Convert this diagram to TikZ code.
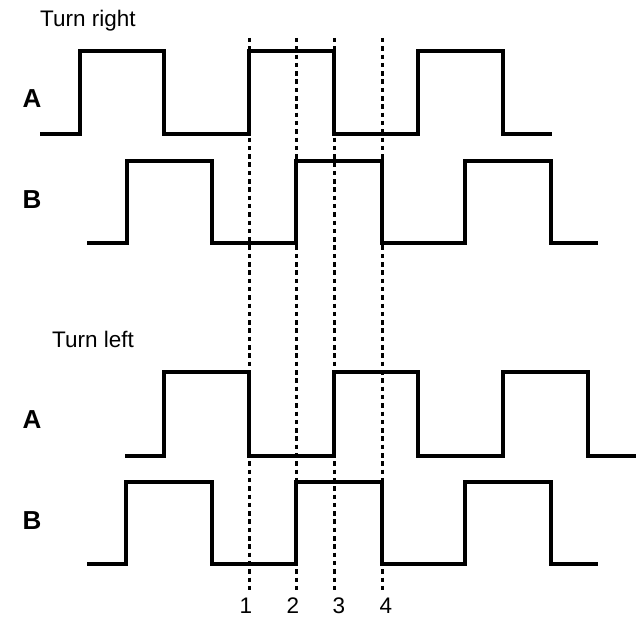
\documentclass[tikz,border=0pt]{standalone}
\usepackage{fontspec}
\setmainfont{Liberation Sans}
\begin{document}
\begin{tikzpicture}[x=1pt,y=-1pt,
  wave/.style={line width=4.2pt,line join=miter},
  guide/.style={line width=3pt,dash pattern=on 4.5pt off 3.8pt},
  title/.style={font=\fontsize{22.5}{25}\selectfont,anchor=base west,inner sep=0pt},
  sig/.style={font=\fontsize{26}{28}\selectfont\bfseries,inner sep=0pt},
  num/.style={font=\fontsize{22.5}{24}\selectfont,inner sep=0pt}]
\useasboundingbox (0,0) rectangle (642,617);
% texts
\node[title] (tr) at (40,27) {Turn right};
\node[title] (tl) at (52,348) {Turn left};
\node[sig] (a1) at (32,99) {A};
\node[sig] (b1) at (32,200) {B};
\node[sig] (a2) at (32,420) {A};
\node[sig] (b2) at (32,521) {B};
% dotted guides
\foreach \x/\n in {249/1,296/2,334/3,382/4}{
  \coordinate (g\n t) at (\x,38);
  \coordinate (g\n b) at (\x,593);
  \draw[guide] (g\n t) -- (g\n b);
}
\node[num] (n1) at (246,606) {1};
\node[num] (n2) at (293,606) {2};
\node[num] (n3) at (339,606) {3};
\node[num] (n4) at (386,606) {4};
% top A
\draw[wave] (40,134) -- (80,134) -- (80,51) -- (164,51) -- (164,134) -- (249,134) -- (249,51) -- (334,51) -- (334,134) -- (418,134) -- (418,51) -- (503,51) -- (503,134) -- (552,134);
% top B
\draw[wave] (87,243) -- (127,243) -- (127,161) -- (212,161) -- (212,243) -- (296,243) -- (296,161) -- (382,161) -- (382,243) -- (465,243) -- (465,161) -- (551,161) -- (551,243) -- (598,243);
% bottom A
\draw[wave] (125,456) -- (164,456) -- (164,372) -- (249,372) -- (249,456) -- (334,456) -- (334,372) -- (418,372) -- (418,456) -- (503,456) -- (503,372) -- (588,372) -- (588,456) -- (636,456);
% bottom B
\draw[wave] (87,564) -- (126,564) -- (126,482) -- (212,482) -- (212,564) -- (296,564) -- (296,482) -- (382,482) -- (382,564) -- (465,564) -- (465,482) -- (551,482) -- (551,564) -- (598,564);
\end{tikzpicture}
\end{document}
